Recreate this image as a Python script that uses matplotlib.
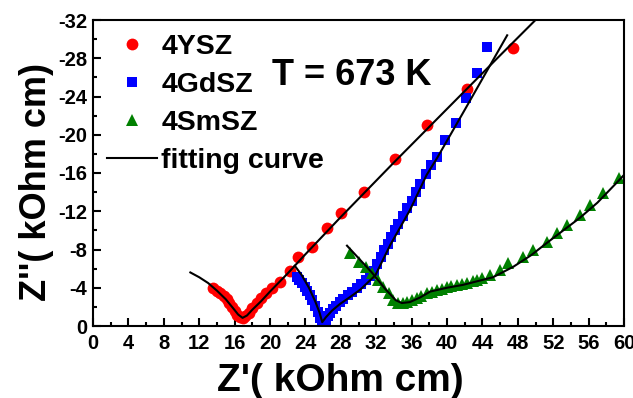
import matplotlib
matplotlib.use("Agg")
import matplotlib.pyplot as plt
from matplotlib.ticker import MultipleLocator

plt.rcParams['font.family'] = ['Liberation Sans', 'DejaVu Sans']
plt.rcParams['font.weight'] = 'bold'
plt.rcParams['axes.unicode_minus'] = False

# 4YSZ data (Z' , Z'')
ysz_re = [13.6, 14.0, 14.4, 14.8, 15.1, 15.4, 15.7, 16.0, 16.3, 16.6, 16.9, 17.2, 17.6, 18.0,
          18.5, 19.0, 19.6, 20.2, 21.1, 22.3, 23.2, 24.7, 26.4, 28.0, 30.6, 34.1, 37.7, 42.3, 47.5]
ysz_im = [-4.0, -3.7, -3.4, -3.1, -2.8, -2.4, -2.0, -1.6, -1.2, -0.9, -0.8, -1.0, -1.4, -1.9,
          -2.4, -2.9, -3.4, -4.0, -4.6, -5.7, -7.2, -8.3, -10.2, -11.8, -14.0, -17.5, -21.0, -24.8, -29.1]

# 4GdSZ data
gd_re = [23.0, 23.3, 23.6, 23.9, 24.2, 24.5, 24.8, 25.1, 25.4, 25.7, 25.9, 26.1, 26.3, 26.5,
         26.8, 27.1, 27.5, 27.9, 28.3, 28.8, 29.3, 29.8, 30.3, 30.8, 31.3, 31.7, 32.1, 32.5,
         32.9, 33.3, 33.7, 34.1, 34.5, 35.0, 35.5, 36.0, 36.5, 37.0, 37.6, 38.2, 38.9, 39.8,
         41.0, 42.2, 43.4, 44.5]
gd_im = [-5.1, -4.8, -4.5, -4.1, -3.7, -3.2, -2.7, -2.1, -1.5, -0.8, -0.3, -0.2, -0.6, -1.0,
         -1.4, -1.8, -2.1, -2.5, -2.8, -3.2, -3.6, -4.0, -4.4, -4.8, -5.2, -5.8, -6.5, -7.2,
         -7.9, -8.6, -9.3, -10.0, -10.7, -11.5, -12.3, -13.1, -14.0, -14.9, -15.9, -16.8, -17.7, -19.4,
         -21.2, -23.8, -26.5, -29.2]

# 4SmSZ data
sm_re = [29.0, 30.0, 30.9, 31.5, 32.2, 32.8, 33.4, 33.9, 34.5, 35.0, 35.5, 36.0, 36.6, 37.1,
         37.7, 38.3, 38.9, 39.4, 40.0, 40.5, 41.1, 41.7, 42.3, 42.9, 43.4, 44.0, 44.9, 46.0,
         46.9, 48.6, 49.7, 51.3, 52.4, 53.6, 55.0, 56.2, 57.6, 59.4]
sm_im = [-7.6, -6.7, -6.2, -5.5, -4.8, -4.1, -3.4, -2.7, -2.4, -2.4, -2.5, -2.7, -2.9, -3.1,
         -3.4, -3.6, -3.8, -3.9, -4.1, -4.2, -4.3, -4.4, -4.5, -4.7, -4.8, -5.0, -5.3, -5.9,
         -6.6, -7.2, -8.0, -8.8, -9.7, -10.6, -11.6, -12.7, -13.9, -15.5]

# fitting curves
fit_ysz_re = [11.0, 12.0, 13.0, 14.0, 15.0, 15.8, 16.4, 16.9, 17.4, 18.0, 19.0, 20.0, 22.0,
              24.0, 28.0, 34.0, 40.0, 46.0, 50.0]
fit_ysz_im = [-5.6, -5.1, -4.5, -3.7, -2.8, -1.9, -1.2, -0.85, -1.1, -1.7, -2.6, -3.6, -5.5,
              -7.5, -11.4, -17.1, -22.7, -28.3, -32.0]
fit_gd_re = [22.8, 23.6, 24.4, 25.1, 25.6, 25.9, 26.3, 27.0, 27.9, 29.0, 30.2, 31.9, 33.6,
             35.8, 37.7, 38.9, 42.0, 46.8]
fit_gd_im = [-6.3, -5.3, -4.0, -2.6, -1.4, -0.4, -0.9, -1.6, -2.3, -3.0, -3.8, -5.3, -8.5,
             -12.1, -15.8, -17.6, -22.6, -30.4]
fit_sm_re = [28.7, 30.0, 31.5, 33.0, 34.2, 34.9, 35.8, 37.0, 38.1, 40.0, 41.8, 43.5, 45.2,
             47.5, 49.5, 51.3, 53.0, 55.0, 57.0, 59.5, 60.0]
fit_sm_im = [-8.4, -7.1, -5.6, -3.9, -2.7, -2.4, -2.5, -3.0, -3.6, -4.0, -4.3, -4.7, -5.1,
             -6.2, -7.4, -8.7, -9.9, -11.3, -12.9, -15.3, -15.8]

fig = plt.figure(figsize=(6.33, 3.98), dpi=100)
ax = fig.add_axes([93 / 633, 72 / 398, 531 / 633, 306 / 398])

ax.plot(ysz_re, ysz_im, 'o', color='red', markersize=8.5, markeredgewidth=0, label='4YSZ', zorder=2)
ax.plot(gd_re, gd_im, 's', color='blue', markersize=7, markeredgewidth=0, label='4GdSZ', zorder=2)
ax.plot(sm_re, sm_im, '^', color='green', markersize=9, markeredgewidth=0, label='4SmSZ', zorder=2)
ax.plot(fit_ysz_re, fit_ysz_im, '-', color='black', lw=1.5, label='fitting curve', zorder=3)
ax.plot(fit_gd_re, fit_gd_im, '-', color='black', lw=1.5, zorder=3)
ax.plot(fit_sm_re, fit_sm_im, '-', color='black', lw=1.5, zorder=3)

ax.set_xlim(0, 60)
ax.set_ylim(0, -32)
ax.xaxis.set_major_locator(MultipleLocator(4))
ax.xaxis.set_minor_locator(MultipleLocator(2))
ax.yaxis.set_major_locator(MultipleLocator(4))
ax.yaxis.set_minor_locator(MultipleLocator(2))
ax.tick_params(which='both', direction='in', top=False, right=False, width=1.5, labelsize=14.5)
ax.tick_params(axis='x', pad=6)
ax.tick_params(axis='y', pad=4)
ax.tick_params(which='major', length=6)
ax.tick_params(which='minor', length=3)
for s in ax.spines.values():
    s.set_linewidth(1.5)

ax.set_xlabel("Z'( kOhm cm)", fontsize=28, fontweight='bold')
ax.xaxis.set_label_coords(0.465, -0.12)
ax.set_ylabel("Z''( kOhm cm)", fontsize=26, fontweight='bold')
ax.yaxis.set_label_coords(-0.074, 0.47)

ax.text(20.2, -26.2, "T = 673 K", fontsize=26, fontweight='bold', va='center')

ax.legend(loc='upper left', frameon=False, fontsize=20.5, handlelength=1.75, handletextpad=0.15,
          labelspacing=0.42, borderaxespad=0.1, borderpad=0.4, numpoints=1)

fig.savefig("out.png", dpi=100)
